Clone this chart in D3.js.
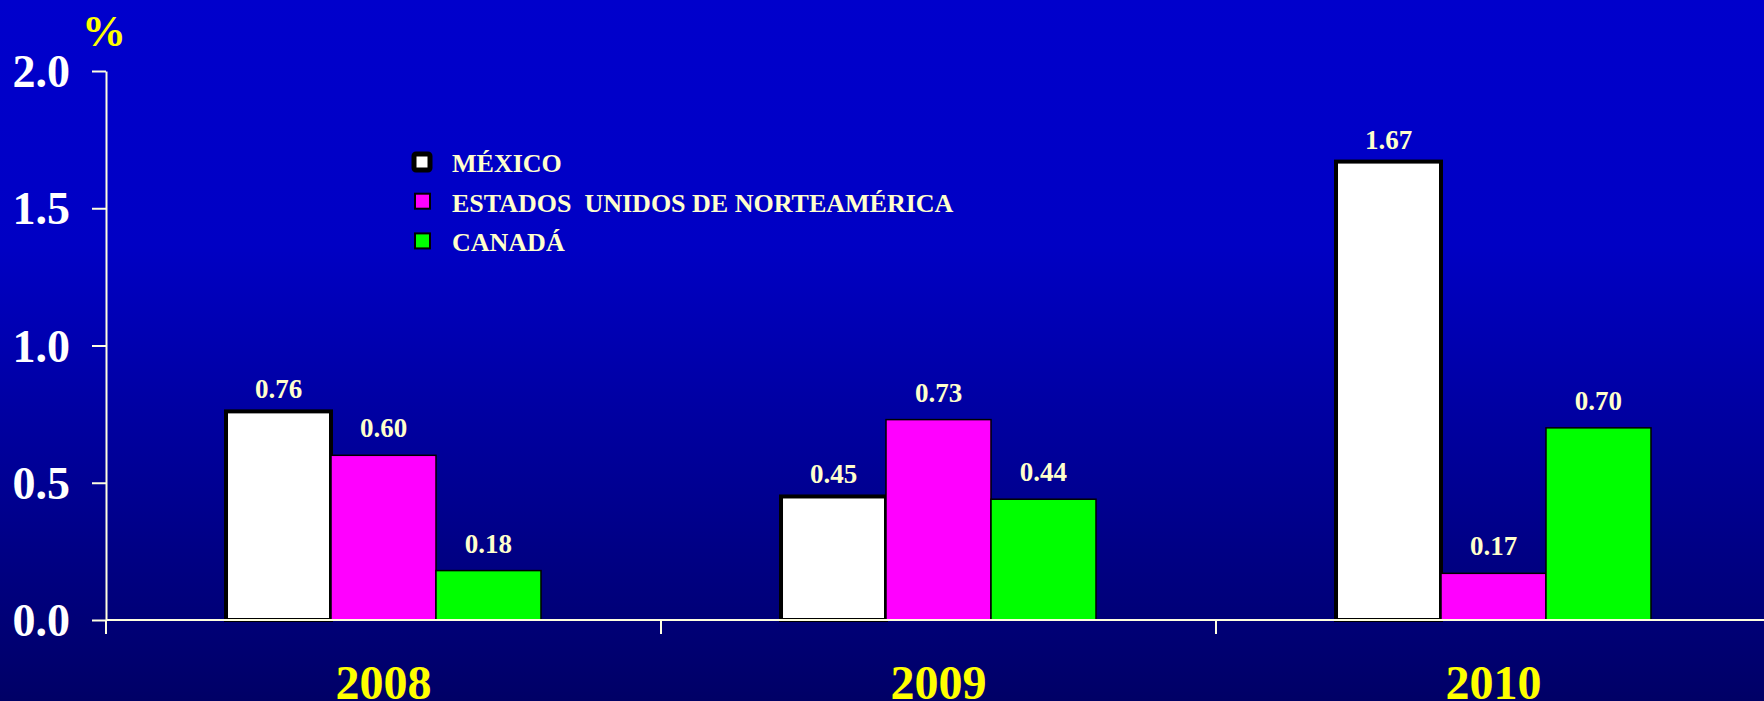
<!DOCTYPE html>
<html><head><meta charset="utf-8">
<script src="https://cdn.jsdelivr.net/npm/d3@7"></script>
<style>html,body{margin:0;padding:0;overflow:hidden;background:#0000cc}svg{display:block}</style>
</head><body>
<script>
const years = ["2008", "2009", "2010"];
const seriesNames = ["MÉXICO", "ESTADOS  UNIDOS DE NORTEAMÉRICA", "CANADÁ"];
const mexico = [0.76, 0.45, 1.67];
const usa = [0.60, 0.73, 0.17];
const canada = [0.18, 0.44, 0.70];
const yTicks = [0, 0.5, 1.0, 1.5, 2.0];
const colors = ["#ffffff", "#ff00ff", "#00ff00"];

const W = 1764, H = 701;
const serif = "'Liberation Serif','Times New Roman',serif";
const svg = d3.select("body").append("svg").attr("width", W).attr("height", H);

const defs = svg.append("defs");
const g = defs.append("linearGradient").attr("id", "bg").attr("x1", 0).attr("y1", 0).attr("x2", 0).attr("y2", 1);
g.append("stop").attr("offset", "0%").attr("stop-color", "#0000cc");
g.append("stop").attr("offset", "35%").attr("stop-color", "#0000c4");
g.append("stop").attr("offset", "100%").attr("stop-color", "#000066");
svg.append("rect").attr("width", W).attr("height", H).attr("fill", "url(#bg)");

const y = d3.scaleLinear().domain([0, 2.0]).range([620, 71]);
const x0 = d3.scaleBand().domain(years).range([106, 1771]).padding(0);
const x1 = d3.scaleBand().domain(seriesNames).range([0, x0.bandwidth()]).paddingInner(0).paddingOuter(1.143);

const data = [mexico, usa, canada];
const axisColor = "#ffffe0";

// bars
years.forEach((yr, i) => {
  const grp = svg.append("g").attr("transform", `translate(${x0(yr)},0)`);
  seriesNames.forEach((s, j) => {
    const v = data[j][i];
    grp.append("rect")
      .attr("x", x1(s)).attr("width", x1.bandwidth())
      .attr("y", y(v)).attr("height", y(0) - y(v))
      .attr("fill", colors[j])
      .attr("stroke", "#000").attr("stroke-width", j === 0 ? 4 : 1.5);
    grp.append("text")
      .attr("x", x1(s) + x1.bandwidth() / 2)
      .attr("y", y(v) - (j === 0 ? 13 : 18))
      .attr("text-anchor", "middle")
      .attr("font-family", serif).attr("font-weight", "bold").attr("font-size", 27)
      .attr("fill", "#ffffcc")
      .text(v.toFixed(2));
  });
});

// y axis
const yAxis = d3.axisLeft(y).tickValues(yTicks).tickFormat(d3.format(".1f")).tickSize(14).tickSizeOuter(0).tickPadding(22);
const ya = svg.append("g").attr("transform", "translate(106,0)").call(yAxis);
ya.select(".domain").attr("stroke", axisColor).attr("stroke-width", 2);
ya.selectAll(".tick line").attr("stroke", axisColor).attr("stroke-width", 2);
ya.selectAll(".tick text").attr("fill", "#ffffff").attr("font-family", serif).attr("font-weight", "bold").attr("font-size", 46).attr("dy", "0.34em");

// x axis line + ticks
svg.append("line").attr("x1", 106).attr("x2", W).attr("y1", y(0)).attr("y2", y(0)).attr("stroke", axisColor).attr("stroke-width", 2);
years.forEach(yr => {
  svg.append("line").attr("x1", x0(yr)).attr("x2", x0(yr)).attr("y1", y(0)).attr("y2", y(0) + 14).attr("stroke", axisColor).attr("stroke-width", 2);
  svg.append("text").attr("x", x0(yr) + x0.bandwidth() / 2).attr("y", 699)
    .attr("text-anchor", "middle").attr("font-family", serif).attr("font-weight", "bold").attr("font-size", 48)
    .attr("fill", "#ffff00").text(yr);
});

// % label
svg.append("text").attr("x", 104).attr("y", 46).attr("text-anchor", "middle")
  .attr("font-family", serif).attr("font-weight", "bold").attr("font-size", 44).attr("fill", "#ffff00").text("%");

// legend
const leg = svg.append("g");
seriesNames.forEach((s, j) => {
  const cy = 162 + j * 39.7;
  if (j === 0) {
    leg.append("rect").attr("x", 414).attr("y", cy - 8).attr("width", 16).attr("height", 16)
      .attr("rx", 2).attr("fill", colors[j]).attr("stroke", "#000").attr("stroke-width", 5);
  } else {
    leg.append("rect").attr("x", 415).attr("y", cy - 8).attr("width", 15).attr("height", 15)
      .attr("fill", colors[j]).attr("stroke", "#000").attr("stroke-width", 2);
  }
  leg.append("text").attr("x", 452).attr("y", cy + 10)
    .attr("font-family", serif).attr("font-weight", "bold").attr("font-size", 26)
    .attr("fill", "#ffffcc").attr("xml:space", "preserve").style("white-space", "pre").text(s);
});
</script>
</body></html>
